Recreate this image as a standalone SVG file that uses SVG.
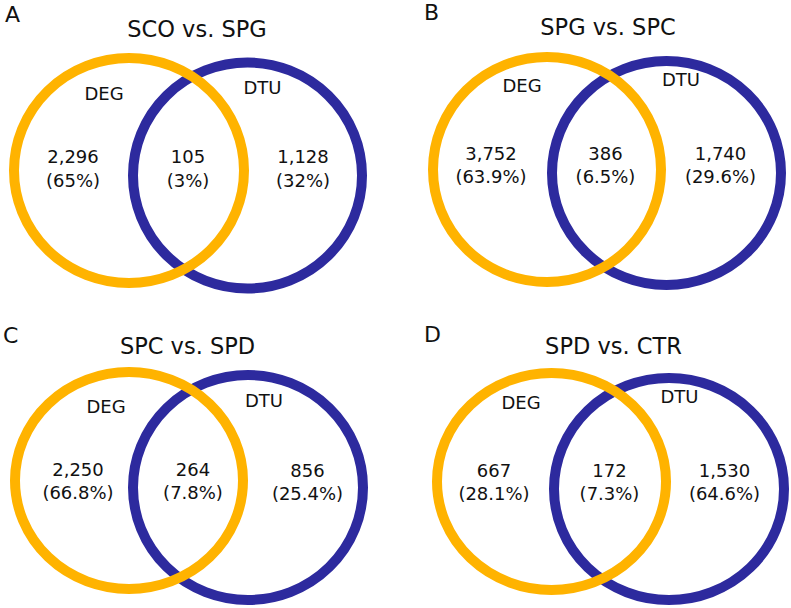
<svg xmlns="http://www.w3.org/2000/svg" width="791" height="608" viewBox="0 0 791 608">
<style>
text{font-family:"DejaVu Sans","Verdana",sans-serif;fill:#111;}
.t{font-size:22.5px;text-anchor:middle;}
.p{font-size:22px;}
.l{font-size:18px;text-anchor:middle;}
.o{fill:none;stroke:#FFB300;stroke-width:10;}
.b{fill:none;stroke:#2D2A9E;stroke-width:10;}
</style>
<rect width="791" height="608" fill="#fff"/>
<g id="connectors"></g>
<g id="panelA">
<text class="p" x="5" y="22">A</text>
<text class="t" x="197" y="37">SCO vs. SPG</text>
<g id="A-DTU"><ellipse class="b" cx="247.5" cy="175.5" rx="114.5" ry="113"/></g>
<g id="A-DEG"><ellipse class="o" cx="129" cy="170.5" rx="115" ry="112.5"/></g>
<text class="l" x="104" y="100">DEG</text>
<text class="l" x="262.5" y="94">DTU</text>
<text class="l" x="73" y="163">2,296</text><text class="l" x="73" y="187">(65%)</text>
<text class="l" x="188" y="163">105</text><text class="l" x="188" y="187">(3%)</text>
<text class="l" x="303" y="163">1,128</text><text class="l" x="303" y="187">(32%)</text>
</g>
<g id="panelB">
<text class="p" x="424" y="20">B</text>
<text class="t" x="608" y="34.5">SPG vs. SPC</text>
<g id="B-DTU"><ellipse class="b" cx="666.5" cy="173" rx="114.5" ry="112"/></g>
<g id="B-DEG"><ellipse class="o" cx="547" cy="169.5" rx="114" ry="112.5"/></g>
<text class="l" x="522" y="92">DEG</text>
<text class="l" x="681" y="86">DTU</text>
<text class="l" x="491" y="160">3,752</text><text class="l" x="491" y="183">(63.9%)</text>
<text class="l" x="605.5" y="160">386</text><text class="l" x="605.5" y="183">(6.5%)</text>
<text class="l" x="720.5" y="160">1,740</text><text class="l" x="720.5" y="183">(29.6%)</text>
</g>
<g id="panelC">
<text class="p" x="3" y="343">C</text>
<text class="t" x="187.5" y="354">SPC vs. SPD</text>
<g id="C-DTU"><ellipse class="b" cx="248" cy="487.5" rx="115" ry="112.5"/></g>
<g id="C-DEG"><ellipse class="o" cx="129" cy="480.5" rx="114" ry="108.5"/></g>
<text class="l" x="106" y="413">DEG</text>
<text class="l" x="264" y="407">DTU</text>
<text class="l" x="78" y="476">2,250</text><text class="l" x="78" y="499">(66.8%)</text>
<text class="l" x="193" y="476">264</text><text class="l" x="193" y="499">(7.8%)</text>
<text class="l" x="307.5" y="477">856</text><text class="l" x="307.5" y="500">(25.4%)</text>
</g>
<g id="panelD">
<text class="p" x="424" y="342">D</text>
<text class="t" x="613.5" y="354">SPD vs. CTR</text>
<g id="D-DTU"><ellipse class="b" cx="669" cy="489" rx="115" ry="111"/></g>
<g id="D-DEG"><ellipse class="o" cx="551.5" cy="481.5" rx="114.5" ry="108.5"/></g>
<text class="l" x="521" y="409">DEG</text>
<text class="l" x="679.5" y="403">DTU</text>
<text class="l" x="494" y="477">667</text><text class="l" x="494" y="500">(28.1%)</text>
<text class="l" x="609.5" y="477">172</text><text class="l" x="609.5" y="500">(7.3%)</text>
<text class="l" x="724.5" y="477">1,530</text><text class="l" x="724.5" y="500">(64.6%)</text>
</g>
</svg>
